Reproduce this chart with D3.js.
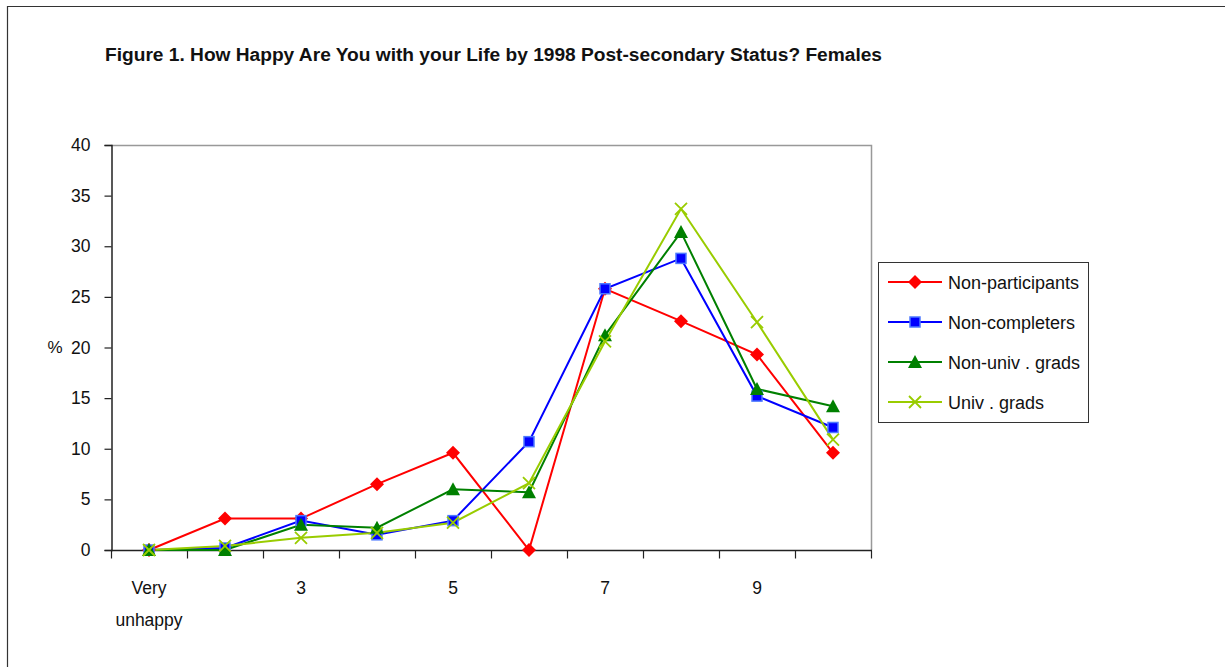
<!DOCTYPE html>
<html>
<head>
<meta charset="utf-8">
<script src="https://cdn.jsdelivr.net/npm/d3@7"></script>
<style>
  body { margin: 0; background: #fff; }
  svg { display: block; font-family: "Liberation Sans", Arial, sans-serif; }
</style>
</head>
<body>
<svg width="1225" height="667"></svg>
<script>
// categories on the happiness scale (1 = very unhappy ... 10)
const categories = [1, 2, 3, 4, 5, 6, 7, 8, 9, 10];
const tickLabels = { 1: ["Very", "unhappy"], 3: ["3"], 5: ["5"], 7: ["7"], 9: ["9"] };
const yTicks = [0, 5, 10, 15, 20, 25, 30, 35, 40];

const seriesNames = ["Non-participants", "Non-completers", "Non-univ . grads", "Univ . grads"];
const nonParticipants = [0, 3.1, 3.1, 6.5, 9.6, 0, 25.8, 22.6, 19.3, 9.6];
const nonCompleters   = [0, 0.2, 2.9, 1.5, 2.9, 10.7, 25.8, 28.8, 15.2, 12.1];
const nonUnivGrads    = [0, 0, 2.5, 2.2, 6.0, 5.7, 21.2, 31.4, 15.9, 14.2];
const univGrads       = [0, 0.4, 1.2, 1.7, 2.7, 6.6, 20.6, 33.7, 22.5, 10.9];

const series = [
  { name: seriesNames[0], values: nonParticipants, color: "#ff0000", marker: "diamond" },
  { name: seriesNames[1], values: nonCompleters,   color: "#0000ff", marker: "square" },
  { name: seriesNames[2], values: nonUnivGrads,    color: "#008000", marker: "triangle" },
  { name: seriesNames[3], values: univGrads,       color: "#99cc00", marker: "cross" }
];

const svg = d3.select("svg");

// outer frame (top and left edges visible)
svg.append("path")
  .attr("d", "M7.5,667 V6.5 H1225")
  .attr("fill", "none")
  .attr("stroke", "#333")
  .attr("stroke-width", 1.2);

svg.append("text")
  .attr("x", 105)
  .attr("y", 61)
  .attr("font-size", 18)
  .attr("font-weight", "bold")
  .attr("fill", "#111")
  .attr("textLength", 777)
  .attr("lengthAdjust", "spacingAndGlyphs")
  .text("Figure 1. How Happy Are You with your Life by 1998 Post-secondary Status? Females");

const plot = { left: 111, top: 145, right: 871, bottom: 550 };

const x = d3.scaleBand()
  .domain(categories)
  .range([plot.left, plot.right]);

const y = d3.scaleLinear()
  .domain([0, 40])
  .range([plot.bottom, plot.top]);

// plot area border: grey top and right
svg.append("path")
  .attr("d", `M${plot.left},${plot.top + 0.5} H${plot.right + 0.5} V${plot.bottom}`)
  .attr("fill", "none")
  .attr("stroke", "#999")
  .attr("stroke-width", 1.5);

// y axis
const yAxis = svg.append("g")
  .attr("transform", `translate(${plot.left + 0.5},0)`)
  .call(d3.axisLeft(y).tickValues(yTicks).tickSize(7).tickPadding(14));
yAxis.select(".domain").attr("stroke", "#222").attr("stroke-width", 1.5);
yAxis.selectAll(".tick line").attr("stroke", "#222").attr("stroke-width", 1.2);
yAxis.selectAll(".tick text")
  .attr("font-size", 17.5)
  .attr("fill", "#111")
  .attr("font-family", "Liberation Sans, Arial, sans-serif");

// x axis: ticks on category boundaries
const xAxis = svg.append("g")
  .attr("transform", `translate(0,${plot.bottom + 0.5})`);
xAxis.append("line")
  .attr("x1", plot.left).attr("x2", plot.right + 1)
  .attr("stroke", "#222").attr("stroke-width", 1.5);
const boundaries = categories.map(c => x(c)).concat([x(categories[categories.length - 1]) + x.bandwidth()]);
xAxis.selectAll("line.tick")
  .data(boundaries)
  .join("line")
  .attr("class", "tick")
  .attr("x1", d => d + 0.5).attr("x2", d => d + 0.5)
  .attr("y1", 0).attr("y2", 8)
  .attr("stroke", "#222").attr("stroke-width", 1.2);

const labelG = xAxis.selectAll("g.lbl")
  .data(categories.filter(c => tickLabels[c]))
  .join("g")
  .attr("class", "lbl")
  .attr("transform", d => `translate(${x(d) + x.bandwidth() / 2},0)`);
labelG.selectAll("text")
  .data(d => tickLabels[d])
  .join("text")
  .attr("y", (d, i) => 43 + i * 32)
  .attr("text-anchor", "middle")
  .attr("font-size", 17.5)
  .attr("fill", "#111")
  .text(d => d);

svg.append("text")
  .attr("x", 55)
  .attr("y", 353)
  .attr("text-anchor", "middle")
  .attr("font-size", 17)
  .attr("fill", "#111")
  .text("%");

// marker drawing
function drawMarker(g, type, color) {
  if (type === "diamond") {
    g.append("path").attr("d", "M0,-7 L7,0 L0,7 L-7,0 Z").attr("fill", color);
  } else if (type === "square") {
    g.append("rect").attr("x", -5).attr("y", -5).attr("width", 10).attr("height", 10)
      .attr("fill", color).attr("stroke", "#4d79ff").attr("stroke-width", 1.5);
  } else if (type === "triangle") {
    g.append("path").attr("d", "M0,-7 L7,6 L-7,6 Z").attr("fill", color);
  } else if (type === "cross") {
    g.append("path").attr("d", "M-6,-6 L6,6 M-6,6 L6,-6")
      .attr("stroke", color).attr("stroke-width", 1.8).attr("fill", "none");
  }
}

const line = d3.line()
  .x((d, i) => x(categories[i]) + x.bandwidth() / 2)
  .y(d => y(d));

const gSeries = svg.append("g");
series.forEach(s => {
  gSeries.append("path")
    .attr("d", line(s.values))
    .attr("fill", "none")
    .attr("stroke", s.color)
    .attr("stroke-width", 2);
});
series.forEach(s => {
  gSeries.append("g")
    .selectAll("g")
    .data(s.values)
    .join("g")
    .attr("transform", (d, i) => `translate(${x(categories[i]) + x.bandwidth() / 2},${y(d)})`)
    .each(function () { drawMarker(d3.select(this), s.marker, s.color); });
});

// legend
const legend = svg.append("g").attr("transform", "translate(878,262)");
legend.append("rect")
  .attr("x", 0.5).attr("y", 0.5)
  .attr("width", 210).attr("height", 160)
  .attr("fill", "#fff").attr("stroke", "#333").attr("stroke-width", 1);
const item = legend.selectAll("g.item")
  .data(series)
  .join("g")
  .attr("class", "item")
  .attr("transform", (d, i) => `translate(0,${20 + i * 40})`);
item.append("line")
  .attr("x1", 10).attr("x2", 64)
  .attr("stroke", d => d.color).attr("stroke-width", 2);
item.append("g")
  .attr("transform", "translate(37,0)")
  .each(function (d) { drawMarker(d3.select(this), d.marker, d.color); });
item.append("text")
  .attr("x", 70).attr("y", 6.5)
  .attr("font-size", 18)
  .attr("fill", "#111")
  .text(d => d.name);
</script>
</body>
</html>
